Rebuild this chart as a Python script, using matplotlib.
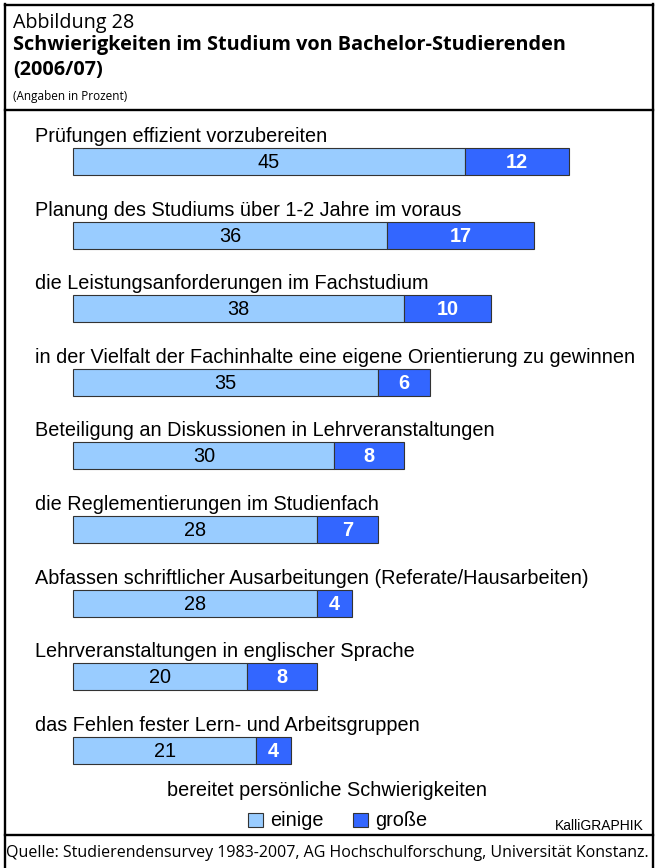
import matplotlib.pyplot as plt
from matplotlib.lines import Line2D
from matplotlib.patches import Rectangle

categories = [
    'Prüfungen effizient vorzubereiten',
    'Planung des Studiums über 1-2 Jahre im voraus',
    'die Leistungsanforderungen im Fachstudium',
    'in der Vielfalt der Fachinhalte eine eigene Orientierung zu gewinnen',
    'Beteiligung an Diskussionen in Lehrveranstaltungen',
    'die Reglementierungen im Studienfach',
    'Abfassen schriftlicher Ausarbeitungen (Referate/Hausarbeiten)',
    'Lehrveranstaltungen in englischer Sprache',
    'das Fehlen fester Lern- und Arbeitsgruppen',
]
einige = [45, 36, 38, 35, 30, 28, 28, 20, 21]
grosse = [12, 17, 10, 6, 8, 7, 4, 8, 4]
series_labels = ['einige', 'große']

LIGHT = '#99ccff'
DARK = '#3366ff'
W, H = 662, 868

fig = plt.figure(figsize=(W / 100, H / 100), dpi=100)
# axes covers the whole figure, data units mapped to pixels
ax = fig.add_axes([0, 0, 1, 1])
px_per_unit = 8.70
x0 = 73.3
row0, row_step = 161.5, 73.6
ax.set_xlim(-x0 / px_per_unit, (W - x0) / px_per_unit)
ax.set_ylim((H - row0) / row_step, -row0 / row_step)
ax.axis('off')

ypos = list(range(len(categories)))
bh = 27 / row_step
ax.barh(ypos, einige, height=bh, color=LIGHT, edgecolor='#333333', linewidth=0.8)
ax.barh(ypos, grosse, left=einige, height=bh, color=DARK, edgecolor='#333333', linewidth=0.8)

lab_font = 'Liberation Sans'
fs = 14.3
for i, cat in enumerate(categories):
    ax.text((35 - x0) / px_per_unit, i - 19.5 / row_step, cat, ha='left', va='baseline',
            fontsize=fs, family=lab_font)
    ax.text(einige[i] / 2, i + 6.5 / row_step, str(einige[i]), ha='center', va='baseline',
            fontsize=fs, family=lab_font)
    ax.text(einige[i] + grosse[i] / 2, i + 6.5 / row_step, str(grosse[i]), ha='center',
            va='baseline', fontsize=fs, family=lab_font, fontweight='bold', color='white')

def fx(px):
    return px / W

def fy(py):
    return 1 - py / H

# frame lines
lw = 1.7
for xs, ys in [((5, 5), (4, H)), ((653, 653), (4, H)), ((5, 653), (4.5, 4.5)),
               ((5, 653), (110, 110)), ((5, 653), (835, 835))]:
    fig.add_artist(Line2D([fx(x) for x in xs], [fy(y) for y in ys], color='black', lw=lw))

head_font = 'Open Sans'
fig.text(fx(13), fy(28), 'Abbildung 28', fontsize=14.2, family=head_font, va='baseline')
fig.text(fx(13), fy(50), 'Schwierigkeiten im Studium von Bachelor-Studierenden',
         fontsize=14.3, family=head_font, fontweight='bold', va='baseline')
fig.text(fx(13), fy(75), '(2006/07)', fontsize=14.3, family=head_font, fontweight='bold',
         va='baseline')
fig.text(fx(13), fy(100), '(Angaben in Prozent)', fontsize=8.5, family=head_font,
         va='baseline')

# legend
fig.text(fx(327), fy(796), 'bereitet persönliche Schwierigkeiten', ha='center', va='baseline',
         fontsize=fs, family=lab_font)
for sx, tx, col, lab in [(248, 270, LIGHT, series_labels[0]), (353, 375, DARK, series_labels[1])]:
    fig.add_artist(Rectangle((fx(sx), fy(827)), 15 / W, 14 / H, facecolor=col,
                             edgecolor='#333333', lw=0.8, transform=fig.transFigure))
    fig.text(fx(tx), fy(826), lab, ha='left', va='baseline', fontsize=fs, family=lab_font)
fig.text(fx(644), fy(830), 'KalliGRAPHIK', ha='right', va='baseline', fontsize=10,
         family=lab_font)

fig.text(fx(6), fy(857), 'Quelle: Studierendensurvey 1983-2007, AG Hochschulforschung, Universität Konstanz.',
         ha='left', va='baseline', fontsize=11.5, family=head_font)

fig.savefig('out.png', dpi=100)
